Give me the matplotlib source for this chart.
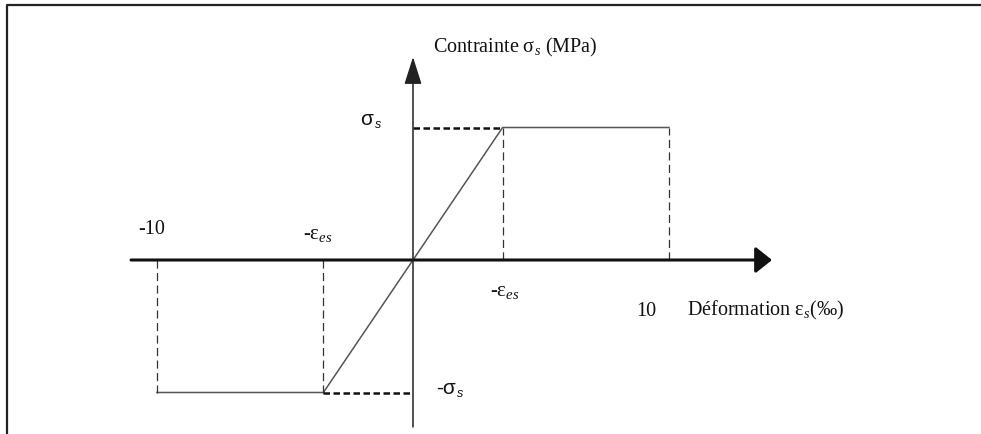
import matplotlib
matplotlib.use("Agg")
import matplotlib.pyplot as plt
import numpy as np

plt.rcParams['font.family'] = ['Liberation Serif', 'DejaVu Serif']
plt.rcParams['mathtext.fontset'] = 'custom'
plt.rcParams['mathtext.rm'] = 'Liberation Serif'
plt.rcParams['mathtext.it'] = 'Liberation Serif:italic'

# diagramme contrainte-deformation de l'acier (normalise)
eps_lim = 10.0      # allongement limite (‰)
eps_es = 3.5        # deformation elastique limite (‰)
sigma_s = 1.0       # contrainte de calcul (normalisee)

curve_eps = [-eps_lim, -eps_es, eps_es, eps_lim]
curve_sig = [-sigma_s, -sigma_s, sigma_s, sigma_s]

# repere en pixels de la figure d'origine
x0_px, y0_px = 413, 261
sx, sy = 25.6, 132.5

fig = plt.figure(figsize=(9.81, 4.35), dpi=100)
ax = fig.add_axes([0, 0, 1, 1])
ax.set_xlim((0 - x0_px) / sx, (981 - x0_px) / sx)
ax.set_ylim((y0_px - 435) / sy, (y0_px - 0) / sy)
ax.axis('off')

# cadre
ax.plot([0.0068, 0.0068, 1.0], [0.0, 0.987, 0.987], transform=ax.transAxes,
        color='#222222', lw=1.6, clip_on=False, solid_capstyle='butt')

# axes
ax.annotate("", xy=((772 - x0_px) / sx, 0), xytext=((131 - x0_px) / sx, 0),
            arrowprops=dict(arrowstyle='-|>,head_length=0.5,head_width=0.4',
                            mutation_scale=20, lw=2.2, color='#111111',
                            shrinkA=0, shrinkB=0))
ax.annotate("", xy=(0, (y0_px - 58) / sy), xytext=(0, (y0_px - 428) / sy),
            arrowprops=dict(arrowstyle='-|>,head_length=0.85,head_width=0.27',
                            mutation_scale=20, lw=1.1, color='#222222',
                            shrinkA=0, shrinkB=0))

# loi de comportement
ax.plot(curve_eps, curve_sig, color='#555555', lw=1.1)

# rappels en tirets
for e, s in zip(curve_eps, curve_sig):
    ax.plot([e, e], [0, s], color='#333333', lw=0.9, dashes=(6.5, 3.5))
ax.plot([0, eps_es], [sigma_s, sigma_s], color='#111111', lw=1.8, dashes=(2.6, 1.4))
ax.plot([-eps_es, 0], [-sigma_s, -sigma_s], color='#111111', lw=1.8, dashes=(2.6, 1.4))

tc = '#111111'
# titres des axes
ax.text(0.8, (y0_px - 47) / sy, r"Contrainte $\mathrm{σ}_{s}$ (MPa)", fontsize=14.5,
        color=tc, ha='left', va='center')
ax.text(eps_lim - 0.9, (y0_px - 312) / sy, "10", fontsize=14.5, color=tc,
        ha='center', va='center')
ax.text(eps_lim + 0.7, (y0_px - 310) / sy, r"Déformation $\mathrm{ε}_{s}$(‰)", fontsize=14.5,
        color=tc, ha='left', va='center')

# graduations
ax.text(-eps_lim - 0.2, (y0_px - 230) / sy, "-10", fontsize=14.5, color=tc,
        ha='center', va='center')
ax.text(-eps_es - 0.2, (y0_px - 235) / sy, r"-ε$_{es}$", fontsize=15, color=tc,
        ha='center', va='center')
ax.text(eps_es + 0.1, (y0_px - 292) / sy, r"-ε$_{es}$", fontsize=15, color=tc,
        ha='center', va='center')
ax.text(-1.8, (y0_px - 120) / sy, "σ", fontsize=15, color=tc,
        family='Liberation Sans', ha='center', va='center')
ax.text(-1.35, (y0_px - 125) / sy, "s", fontsize=9, color=tc, style='italic',
        family='Liberation Sans', ha='center', va='center')
ax.text(1.3, (y0_px - 389) / sy, "-σ", fontsize=15, color=tc,
        family='Liberation Sans', ha='center', va='center')
ax.text(1.85, (y0_px - 394) / sy, "s", fontsize=9, color=tc, style='italic',
        family='Liberation Sans', ha='center', va='center')

fig.savefig("out.png", dpi=100)
